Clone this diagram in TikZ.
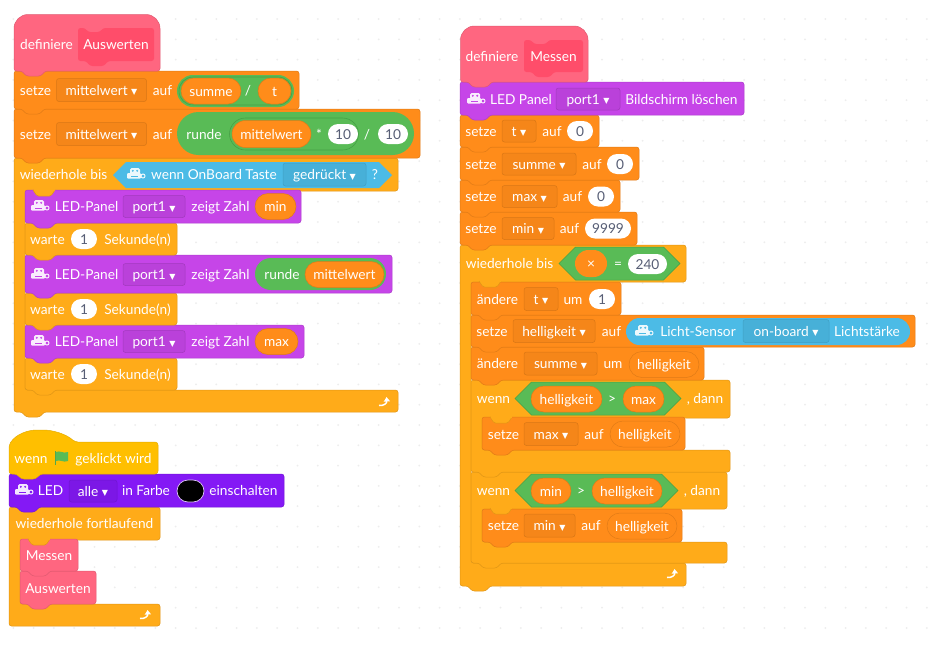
\documentclass[tikz,border=0pt]{standalone}
\usepackage{fontspec}
\setmainfont{Lato}
\newfontfamily\symfont{DejaVu Sans}
\usetikzlibrary{arrows.meta,shapes.misc,shapes.symbols}

\definecolor{procpink}{HTML}{FF6680}
\definecolor{procdark}{HTML}{FF4D6A}
\definecolor{varorange}{HTML}{FF8C1A}
\definecolor{loopamber}{HTML}{FFAB19}
\definecolor{hatyellow}{HTML}{FFBF00}
\definecolor{opgreen}{HTML}{59BB56}
\definecolor{ringgreen}{HTML}{46A046}
\definecolor{sensblue}{HTML}{4CBBE6}
\definecolor{panelpurple}{HTML}{C645E8}
\definecolor{ledviolet}{HTML}{8419F5}
\definecolor{numgrey}{HTML}{575E75}
\definecolor{griddot}{HTML}{EDEDED}

\newcommand{\dropmark}{\hspace{3.5pt}\raisebox{.4pt}{\symfont\fontsize{8}{8}\selectfont ▼}}

% block with a tab under it: x0 y0 x1 y1 colour
\newcommand{\stackblock}[5]{
  \draw [fill=#5, draw=#5!88!black, line width=.5, rounded corners=2.5] (#1,#2) -- (#3,#2) -- (#3,#4)
    -- ({#1+30},#4) -- ({#1+26},{#4+5}) -- ({#1+12},{#4+5}) -- ({#1+8},#4) -- (#1,#4) -- cycle;
}
% same thing with the big round top
\newcommand{\hatblock}[5]{
  \draw [fill=#5, draw=#5!88!black, line width=.5] (#1,#4) [rounded corners=14] -- (#1,#2) -- (#3,#2) [rounded corners=2.5] -- (#3,#4)
    -- ({#1+31},#4) -- ({#1+27},{#4+5}) -- ({#1+12},{#4+5}) -- ({#1+8},#4) -- cycle;
}
% c shaped block: x0 y0 x1 y1 xarm y2 y3
\newcommand{\loopblock}[8]{
  \draw [fill=#8, draw=#8!88!black, line width=.5, rounded corners=2.5] (#1,#2) -- (#3,#2) -- (#3,#4) -- (#5,#4) -- (#5,#6) -- (#3,#6) -- (#3,#7)
    -- ({#1+30},#7) -- ({#1+26},{#7+5}) -- ({#1+12},{#7+5}) -- ({#1+8},#7) -- (#1,#7) -- cycle;
}
% tab of a header that lies on top of the first inner block
\newcommand{\headertab}[3]{
  \draw [fill=#3, draw=#3!88!black, line width=.5, rounded corners=1.5] ({#1+8},{#2-1}) -- ({#1+12},{#2+5}) -- ({#1+26},{#2+5}) -- ({#1+30},{#2-1});
  \fill [#3] ({#1+8.5},{#2-2}) rectangle ({#1+29.5},#2);
}
% dark box in a definiere block
\newcommand{\protobox}[4]{
  \fill [procdark, rounded corners=2.5] (#1,#2) -- ({#1+7},#2) -- ({#1+10},{#2+4}) -- ({#1+22},{#2+4}) -- ({#1+25},#2) -- (#3,#2) -- (#3,#4)
    -- ({#1+30},#4) -- ({#1+26},{#4+5}) -- ({#1+12},{#4+5}) -- ({#1+8},#4) -- (#1,#4) -- cycle;
}
% small robot: x y colour
\newcommand{\botlogo}[3]{
  \fill [white!90!#3, rounded corners=1.5] ({#1-6},{#2-6}) rectangle ({#1+4},{#2});
  \fill [#3] ({#1-3.2},{#2-3.2}) circle (1.1) ({#1+1.2},{#2-3.2}) circle (1.1);
  \fill [white!90!#3, rounded corners=1] ({#1-9},{#2-1}) rectangle ({#1+5},{#2+4.5});
  \fill [#3] ({#1-5},{#2+1.6}) rectangle ({#1+2},{#2+2.6});
  \draw [white!90!#3, line width=1] ({#1+7},{#2+2}) circle (2);
}
\newcommand{\looparrow}[2]{
  \draw [white, line width=1.5, -{Triangle[width=6,length=4.5]}] ({#1-6},{#2+3.5}) .. controls ({#1-1},{#2+4}) and ({#1+2},{#2+1}) .. ({#1+1.5},{#2-5});
}

\begin{document}
\begin{tikzpicture}[x=1pt, y=-1pt, every node/.style={font=\fontsize{13.7}{15}\selectfont, text=white, inner sep=0, text height=11, text depth=1}]
    \tikzstyle{field} = [rectangle, rounded corners=2.5, minimum height=23, line width=.5]
    \tikzstyle{varfield} = [field, fill=varorange!96!black, draw=varorange!85!black]
    \tikzstyle{panelfield} = [field, fill=panelpurple!94!black, draw=panelpurple!82!black]
    \tikzstyle{blueshade} = [field, fill=sensblue!94!black, draw=sensblue!85!black]
    \tikzstyle{violetfield} = [field, fill=ledviolet!94!black, draw=ledviolet!85!black]
    \tikzstyle{numpill} = [rounded rectangle, fill=white, text=numgrey, minimum height=20]
    \tikzstyle{varpill} = [rounded rectangle, fill=varorange, draw=varorange!88!black, line width=.5, minimum height=26]
    \tikzstyle{opspill} = [rounded rectangle, fill=opgreen, minimum height=32]
    \tikzstyle{ringpill} = [rounded rectangle, preaction={draw=opgreen, line width=4}, fill=opgreen, draw=ringgreen, line width=.6]
    \tikzstyle{hexbox} = [signal, signal to=west and east, signal pointer angle=90, fill=opgreen, draw=ringgreen, line width=.5, minimum height=33]

    \useasboundingbox (0,0) rectangle (932,646);
    \fill [white] (0,0) rectangle (932,646);
    \foreach \i in {0,...,45} {
      \foreach \j in {0,...,31} {
        \fill [griddot] ({13.3+20.3*\i},{19+20.3*\j}) circle (1);
      }
    }

    % Forever stack
    \draw [fill=loopamber, draw=loopamber!88!black, line width=.5, rounded corners=2.5] (9,507) -- (160,507) -- (160,540) -- (20,540) -- (20,604) -- (160,604) -- (160,626) -- (9,626) -- cycle;
    \looparrow{146}{615}
    \stackblock{20}{571}{96}{604}{procpink}
    \node (callAus) at (58,588) {Auswerten};
    \stackblock{20}{539}{78}{571}{procpink}
    \node (callMes) at (49,555) {Messen};
    \headertab{20}{540}{loopamber}
    \node (forever) at (84.5,523) {wiederhole fortlaufend};

    \stackblock{9}{474}{284}{507}{ledviolet}
    \botlogo{24}{490}{ledviolet}
    \node (ledText) at (50.5,490) {LED};
    \node [violetfield, minimum width=48, minimum height=22] (ledAll) at (93,491) {alle\dropmark};
    \node (ledFarbe) at (146,490) {in Farbe};
    \node [rounded rectangle, fill=black, draw=white!75!ledviolet, line width=.7, minimum width=27, minimum height=22] (ledBlack) at (190.5,491) {};
    \node (ledOn) at (243.5,490) {einschalten};

    \draw [fill=hatyellow, draw=hatyellow!90!black, line width=.5] (9,474) [rounded corners=3] -- (9,445) .. controls (16,434) and (28,430) .. (40,430) .. controls (53,430) and (66,434) .. (75,442) -- (158,442) -- (158,474)
      -- (40,474) -- (36,479) -- (21,479) -- (17,474) -- cycle;
    \node (flagWenn) at (31,458) {wenn};
    \fill [opgreen!90!black] (55,451) -- (56.3,451) -- (56.3,465) -- (55,465) -- cycle;
    \fill [opgreen] (56,452) .. controls (60,450) and (63,454) .. (68,452) -- (68,461) .. controls (63,463) and (60,459) .. (56,461) -- cycle;
    \node (flagKlick) at (113.5,458) {geklickt wird};

    % Auswerten stack
    \loopblock{14}{158}{398}{191}{25}{390}{412}{loopamber}
    \looparrow{385}{402}
    \stackblock{25}{358}{177}{390}{loopamber}
    \node (waitC) at (47.5,374) {warte};
    \node [numpill, minimum width=26] (waitNumC) at (84,374) {1};
    \node (waitUnitC) at (137.5,374) {Sekunde(n)};

    \stackblock{25}{325}{304}{358}{panelpurple}
    \botlogo{40}{341}{panelpurple}
    \node (panelC) at (86.5,341) {LED-Panel};
    \node [panelfield, minimum width=62, minimum height=22] (portC) at (154,341.5) {port1\dropmark};
    \node (zahlC) at (220.5,341) {zeigt Zahl};
    \node [varpill, minimum width=43] (maxC) at (276.5,341.5) {max};

    \stackblock{25}{293}{177}{325}{loopamber}
    \node (waitB) at (47.5,309) {warte};
    \node [numpill, minimum width=26] (waitNumB) at (84,309) {1};
    \node (waitUnitB) at (137.5,309) {Sekunde(n)};

    \stackblock{25}{255}{392}{293}{panelpurple}
    \botlogo{40}{274}{panelpurple}
    \node (panelB) at (86.5,274) {LED-Panel};
    \node [panelfield, minimum width=62, minimum height=22] (portB) at (154,274.5) {port1\dropmark};
    \node (zahlB) at (220.5,274) {zeigt Zahl};
    \node [opspill, minimum width=131] (rundeOuter) at (320.5,274) {};
    \node (rundeB) at (282,274) {runde};
    \node [varpill, minimum width=79] (meanB) at (344.5,274.5) {mittelwert};

    \stackblock{25}{223}{177}{255}{loopamber}
    \node (waitA) at (47.5,239) {warte};
    \node [numpill, minimum width=26] (waitNumA) at (84,239) {1};
    \node (waitUnitA) at (137.5,239) {Sekunde(n)};

    \stackblock{25}{190}{301}{223}{panelpurple}
    \botlogo{40}{206}{panelpurple}
    \node (panelA) at (86.5,206) {LED-Panel};
    \node [panelfield, minimum width=62, minimum height=22] (portA) at (154,206.5) {port1\dropmark};
    \node (zahlA) at (220.5,206) {zeigt Zahl};
    \node [varpill, minimum width=41] (minA) at (275.5,206.5) {min};

    \headertab{25}{191}{loopamber}
    \node (untilA) at (63.5,174) {wiederhole bis};
    \node [signal, signal to=west and east, signal pointer angle=90, fill=sensblue, minimum width=279, minimum height=26] (hexKey) at (252.5,175) {};
    \botlogo{136}{174}{sensblue}
    \node (keyText) at (214,174) {wenn OnBoard Taste};
    \node [blueshade, minimum width=83] (keyDrop) at (324.5,174.5) {gedrückt\dropmark};
    \node (keyAsk) at (375,174) {?};

    \stackblock{14}{109}{420}{158}{varorange}
    \node (setMeanB) at (35.5,134) {setze};
    \node [varfield, minimum width=90] (dropMeanB) at (101.5,134) {mittelwert\dropmark};
    \node (aufMeanB) at (162.5,134) {auf};
    \node [opspill, minimum width=237, minimum height=43] (roundOuter) at (295.5,133.5) {};
    \node (roundText) at (204,134) {runde};
    \node [ringpill, minimum width=129, minimum height=32] (roundInner) at (294,134) {};
    \node [varpill, minimum width=79, minimum height=27] (meanVar) at (271.5,134) {mittelwert};
    \node (timesSign) at (319,134) {*};
    \node [numpill, minimum width=30] (tenA) at (343,134) {10};
    \node (slashB) at (367,134) {/};
    \node [numpill, minimum width=30] (tenB) at (393,134) {10};

    \stackblock{14}{71}{299}{109}{varorange}
    \node (setMeanA) at (35.5,90) {setze};
    \node [varfield, minimum width=90] (dropMeanA) at (101.5,90) {mittelwert\dropmark};
    \node (aufMeanA) at (162.5,90) {auf};
    \node [ringpill, minimum width=113, minimum height=28] (quotient) at (235.5,91) {};
    \node [varpill, minimum width=60] (sumVar) at (211,91) {summe};
    \node (slashA) at (248,90) {/};
    \node [varpill, minimum width=33] (tVar) at (274.5,91) {t};

    \hatblock{14}{14.5}{160}{71}{procpink}
    \protobox{78}{28}{154}{61}
    \node (defAus) at (46.5,44) {definiere};
    \node (defAusName) at (116,44) {Auswerten};

    % Messen stack
    \loopblock{460}{245}{686}{282}{471}{563}{586}{loopamber}
    \looparrow{673}{574}

    \loopblock{471}{472}{727}{509}{482}{542}{563}{loopamber}
    \stackblock{482}{509}{682}{542}{varorange}
    \node (setMin) at (503.5,525) {setze};
    \node [varfield, minimum width=51] (dropMin) at (549.5,525.5) {min\dropmark};
    \node (aufMin) at (591,525) {auf};
    \node [varpill, minimum width=70] (varLightB) at (642,526) {helligkeit};
    \headertab{482}{509}{loopamber}
    \node (wennB) at (493.5,490) {wenn};
    \node [hexbox, minimum width=163] (hexMin) at (596.5,490.5) {};
    \node [varpill, minimum width=40] (minVar) at (551,491) {min};
    \node (gtB) at (581,490) {>};
    \node [varpill, minimum width=70] (lightVarB) at (627,491) {helligkeit};
    \node (dannB) at (702,490) {, dann};

    \loopblock{471}{380}{730}{418}{482}{450}{472}{loopamber}
    \stackblock{482}{417}{685}{450}{varorange}
    \node (setMax) at (503.5,434) {setze};
    \node [varfield, minimum width=54] (dropMax) at (551,434) {max\dropmark};
    \node (aufMax) at (594,434) {auf};
    \node [varpill, minimum width=70] (varLightA) at (645,434) {helligkeit};
    \headertab{482}{418}{loopamber}
    \node (wennA) at (493.5,398) {wenn};
    \node [hexbox, minimum width=166] (hexMax) at (598,398.5) {};
    \node [varpill, minimum width=71] (lightVarA) at (566.5,399) {helligkeit};
    \node (gtA) at (612,398) {>};
    \node [varpill, minimum width=41] (maxVar) at (643.5,399) {max};
    \node (dannA) at (705,398) {, dann};

    \stackblock{471}{347}{704}{380}{varorange}
    \node (chgSum) at (497.5,363) {ändere};
    \node [varfield, minimum width=73] (dropChgSum) at (560.5,363.5) {summe\dropmark};
    \node (umSum) at (613,363) {um};
    \node [varpill, minimum width=70] (varLightC) at (664,364.5) {helligkeit};

    \stackblock{471}{315}{915}{347}{varorange}
    \node (setLight) at (492,331) {setze};
    \node [varfield, minimum width=82] (dropLight) at (554,331) {helligkeit\dropmark};
    \node (aufLight) at (611.5,331) {auf};
    \node [rounded rectangle, fill=sensblue, minimum width=284, minimum height=27] (sensPill) at (768,331.5) {};
    \botlogo{644}{331}{sensblue}
    \node (sensText) at (698,331) {Licht-Sensor};
    \node [blueshade, minimum width=86] (sensDrop) at (786,331) {on-board\dropmark};
    \node (sensUnit) at (867,331) {Lichtstärke};

    \stackblock{471}{282}{621}{315}{varorange}
    \node (chgT) at (497.5,299) {ändere};
    \node [varfield, minimum width=34] (dropChgT) at (541,299) {t\dropmark};
    \node (umT) at (573,299) {um};
    \node [numpill, minimum width=26] (stepT) at (602,299) {1};

    \headertab{471}{282}{loopamber}
    \node (untilB) at (509.5,263) {wiederhole bis};
    \node [hexbox, minimum width=121] (hexLimit) at (619.5,263.5) {};
    \node [rounded rectangle, fill=varorange, minimum width=32, minimum height=27] (xVar) at (591,263.5) {×};
    \node (eqSign) at (618,263) {=};
    \node [numpill, minimum width=39] (limitNum) at (647.5,264) {240};

    \stackblock{460}{212}{637}{245}{varorange}
    \node (setMinZ) at (481,228) {setze};
    \node [varfield, minimum width=52, minimum height=22] (dropMinZ) at (528,228.5) {min\dropmark};
    \node (aufMinZ) at (569.5,228) {auf};
    \node [numpill, minimum width=46] (numMin) at (608,228.5) {9999};

    \stackblock{460}{180}{620}{212}{varorange}
    \node (setMaxZ) at (481,196) {setze};
    \node [varfield, minimum width=55, minimum height=22] (dropMaxZ) at (529.5,196.5) {max\dropmark};
    \node (aufMaxZ) at (572.5,196) {auf};
    \node [numpill, minimum width=26] (numMax) at (601,196.5) {0};

    \stackblock{460}{147}{639}{180}{varorange}
    \node (setSumZ) at (481,164) {setze};
    \node [varfield, minimum width=74, minimum height=22] (dropSumZ) at (539,164) {summe\dropmark};
    \node (aufSumZ) at (592,164) {auf};
    \node [numpill, minimum width=26] (numSum) at (620,164) {0};

    \stackblock{460}{115}{599}{147}{varorange}
    \node (setTZ) at (481,131) {setze};
    \node [varfield, minimum width=34, minimum height=22] (dropTZ) at (519,131) {t\dropmark};
    \node (aufTZ) at (552,131) {auf};
    \node [numpill, minimum width=26] (numT) at (580,131) {0};

    \stackblock{460}{82}{744}{115}{panelpurple}
    \botlogo{476}{99}{panelpurple}
    \node (panelClr) at (521,99) {LED Panel};
    \node [panelfield, minimum width=64, minimum height=22] (portClr) at (588,99) {port1\dropmark};
    \node (clrText) at (681.5,99) {Bildschirm löschen};

    \hatblock{460.5}{26}{588}{82}{procpink}
    \protobox{524}{40}{583}{72}
    \node (defMes) at (492,56) {definiere};
    \node (defMesName) at (553.5,56) {Messen};
\end{tikzpicture}
\end{document}
